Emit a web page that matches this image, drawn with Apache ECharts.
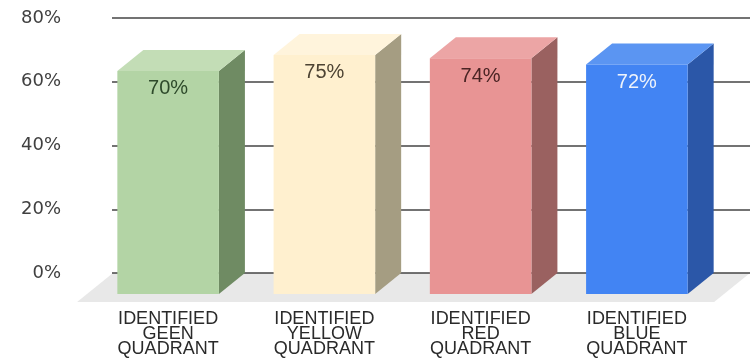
<!DOCTYPE html>
<html>
<head>
<meta charset="utf-8">
<style>
  html, body { margin: 0; padding: 0; background: #ffffff; }
  #chart { width: 750px; height: 359px; }
</style>
<script src="https://cdn.jsdelivr.net/npm/echarts@6/dist/echarts.min.js"></script>
</head>
<body>
<div id="chart"></div>
<script>
// Quadrant identification rates
const categories = [
  'IDENTIFIED\nGEEN\nQUADRANT',
  'IDENTIFIED\nYELLOW\nQUADRANT',
  'IDENTIFIED\nRED\nQUADRANT',
  'IDENTIFIED\nBLUE\nQUADRANT'
];
const values = [70, 75, 74, 72];
const yTicks = { min: 0, max: 80, interval: 20 };

// Face shading for each bar: front, top, side, label
const palette = [
  { front: '#b3d4a5', top: '#c3ddb6', side: '#6f8b63', label: '#2e4a2b' },
  { front: '#fff0cf', top: '#fff4dc', side: '#a59d82', label: '#4d4333' },
  { front: '#e89494', top: '#eca5a5', side: '#9a6160', label: '#4a2424' },
  { front: '#4284f3', top: '#5b95f2', side: '#2b57a8', label: '#eef3fb' }
];

// depth offset of the extruded boxes
const DX = 26, DY = 21;

const chart = echarts.init(document.getElementById('chart'));

function renderBox(params, api) {
  const i = api.value(0);
  const v = api.value(1);
  const back = api.coord([i, v]);
  const base = api.coord([i, 0]);
  const w = api.size([1, 0])[0] * 0.65;
  const x0 = back[0] - w / 2, x1 = back[0] + w / 2;
  const yt = back[1], yb = base[1];
  const fx0 = x0 - DX, fx1 = x1 - DX, fyt = yt + DY, fyb = yb + DY;
  const c = palette[i];
  return {
    type: 'group',
    children: [
      { type: 'polygon', shape: { points: [[fx1, fyt], [x1, yt], [x1, yb], [fx1, fyb]] },
        style: { fill: c.side } },
      { type: 'polygon', shape: { points: [[fx0, fyt], [fx1, fyt], [x1, yt], [x0, yt]] },
        style: { fill: c.top } },
      { type: 'rect', shape: { x: fx0, y: fyt, width: fx1 - fx0, height: fyb - fyt },
        style: { fill: c.front } },
      { type: 'text', x: (fx0 + fx1) / 2, y: fyt + 18,
        style: { text: v + '%', fill: c.label, font: '20px "Liberation Sans", Arial, sans-serif',
                 align: 'center', verticalAlign: 'middle' } }
    ]
  };
}

function renderFloor(params, api) {
  const cs = params.coordSys;
  const y = api.coord([0, 0])[1];
  const bl = cs.x - 3, br = cs.x + cs.width + 9;
  const depth = 29, shift = depth * DX / DY;
  return {
    type: 'polygon',
    shape: { points: [[bl, y], [br, y], [br - shift, y + depth], [bl - shift, y + depth]] },
    style: { fill: '#e8e8e8' }
  };
}

chart.setOption({
  animation: false,
  backgroundColor: '#ffffff',
  grid: [
    { left: 112, right: 0, top: 18, bottom: 86 },
    { left: 116, right: 9, top: 18, bottom: 86 }
  ],
  xAxis: [
    { type: 'value', gridIndex: 0, show: false, min: 0, max: 1 },
    {
      type: 'category', gridIndex: 1, data: categories,
      axisLine: { show: false }, axisTick: { show: false },
      axisLabel: {
        interval: 0, margin: 39, color: '#2a2a2a',
        fontFamily: '"Liberation Sans", Arial, sans-serif', fontSize: 18, lineHeight: 15,
        padding: [0, DX * 2, 0, 0]
      }
    }
  ],
  yAxis: [
    {
      type: 'value', gridIndex: 0, min: yTicks.min, max: yTicks.max, interval: yTicks.interval,
      axisLine: { show: false }, axisTick: { show: false },
      axisLabel: { formatter: '{value}%', margin: 51, color: '#404040',
                   fontFamily: '"DejaVu Sans", sans-serif', fontSize: 18 },
      splitLine: { show: true, lineStyle: { color: '#444444', width: 1.7 } }
    },
    {
      type: 'value', gridIndex: 1, min: yTicks.min, max: yTicks.max, interval: yTicks.interval,
      show: false, splitLine: { show: false }
    }
  ],
  series: [
    {
      type: 'custom', xAxisIndex: 1, yAxisIndex: 1, z: -1, silent: true,
      data: [[0, 0]], renderItem: renderFloor
    },
    {
      type: 'custom', xAxisIndex: 1, yAxisIndex: 1,
      data: values.map((v, i) => [i, v]),
      encode: { x: 0, y: 1 },
      renderItem: renderBox
    }
  ]
});
</script>
</body>
</html>
